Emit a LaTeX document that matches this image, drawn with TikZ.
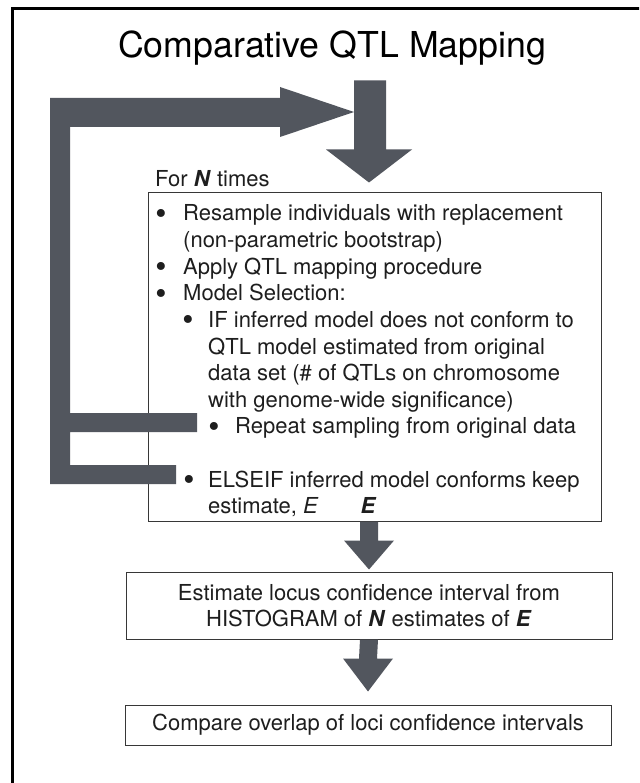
\documentclass[tikz,border=0pt]{standalone}
\usepackage{fontspec}
\setmainfont{TeX Gyre Heros}
\usetikzlibrary{calc}
\definecolor{arrowgray}{RGB}{82,86,94}
\definecolor{txtcol}{RGB}{30,30,30}
\definecolor{boxcol}{RGB}{55,55,55}
\begin{document}
\begin{tikzpicture}[x=1pt,y=-1pt,
  bodyfont/.style={font=\fontsize{22}{26.5}\selectfont},
  txt/.style={inner sep=0pt, anchor=base west, text=txtcol, bodyfont},
  bul/.style={inner sep=0pt, anchor=base, text=txtcol, font=\fontsize{32}{32}\selectfont},
  box/.style={draw=boxcol, line width=1pt, inner sep=0pt, text=txtcol, bodyfont, align=center},
  blockarrow/.style={fill=arrowgray, draw=none}]
\useasboundingbox (0,0) rectangle (639,783);
\fill[white] (0,0) rectangle (639,783);
\begin{scope}
  \clip (0,0) rectangle (639,783);
  \draw[line width=3pt] (12.5,8.5) rectangle (660,800);
\end{scope}

% title
\node[inner sep=0pt, anchor=base, font=\fontsize{35.7}{40}\selectfont] (title) at (332,58) {Comparative QTL Mapping};

% boxes
\node[box, minimum width=453pt, minimum height=328pt] (main) at (374.5,357) {};
\node[box, minimum width=486pt, minimum height=67pt] (est) at (369,605.5)
  {Estimate locus confidence interval from\\HISTOGRAM of \textbf{\textit{N}} estimates of \textbf{\textit{E}}};
\node[box, minimum width=486pt, minimum height=40pt] (cmp) at (368,725)
  {Compare overlap of loci confidence intervals};

% label above main box
\node[txt] (fornt) at (155,187) {For \textbf{\textit{N}} times};

% list inside main box
\node[bul] (b1) at (161,224.5) {•};
\node[txt] (l1) at (183,221.0) {Resample individuals with replacement};
\node[txt] (l2) at (183,247.6) {(non-parametric bootstrap)};
\node[bul] (b3) at (161,277.7) {•};
\node[txt] (l3) at (183,274.2) {Apply QTL mapping procedure};
\node[bul] (b4) at (161,304.3) {•};
\node[txt] (l4) at (183,300.8) {Model Selection:};
\node[bul] (b5) at (188,330.9) {•};
\node[txt] (l5) at (208,327.4) {IF inferred model does not conform to};
\node[txt] (l6) at (208,354.0) {QTL model estimated from original};
\node[txt] (l7) at (208,380.6) {data set (\# of QTLs on chromosome};
\node[txt] (l8) at (208,407.2) {with genome-wide significance)};
\node[bul] (b9) at (214,437.3) {•};
\node[txt] (l9) at (235,433.8) {Repeat sampling from original data};
\node[bul] (b10) at (189,490.5) {•};
\node[txt] (l10) at (208,487.0) {ELSEIF inferred model conforms keep};
\node[txt] (l11) at (208,513.6) {estimate, \textit{E}\hspace{42pt}\textbf{\textit{E}}};

% loop-back block arrow
\coordinate (loopTip) at (354,112);
\fill[blockarrow] (50,98) -- (280,98) -- (280,87) -- (loopTip) -- (280,137) -- (280,127)
  -- (70,127) -- (70,413) -- (197,413) -- (197,432) -- (70,432) -- (70,465)
  -- (176,465) -- (176,484) -- (50,484) -- cycle;

% down arrow into main box
\coordinate (topTip) at ($(main.north -| est.north)+(0,-10)$);
\fill[blockarrow] ($(topTip)+(-15,-102)$) -- ($(topTip)+(17,-102)$) -- ($(topTip)+(17,-33)$)
  -- ($(topTip)+(43,-33)$) -- (topTip) -- ($(topTip)+(-43,-33)$) -- ($(topTip)+(-15,-33)$) -- cycle;

% main -> est
\coordinate (m2e) at (main.south -| est.north);
\fill[blockarrow] ($(m2e)+(-9,0)$) -- ($(m2e)+(9,0)$) -- ($(est.north)+(9,-31)$)
  -- ($(est.north)+(25,-31)$) -- ($(est.north)+(0,-2)$) -- ($(est.north)+(-25,-31)$)
  -- ($(est.north)+(-9,-31)$) -- cycle;

% est -> cmp
\coordinate (e2cTip) at ($(cmp.north)+(0,-13)$);
\fill[blockarrow] ($(est.south)+(-9,0)$) -- ($(est.south)+(9,0)$) -- ($(e2cTip)+(9,-33)$)
  -- ($(e2cTip)+(25,-33)$) -- (e2cTip) -- ($(e2cTip)+(-25,-33)$)
  -- ($(e2cTip)+(-9,-33)$) -- cycle;
\end{tikzpicture}
\end{document}
